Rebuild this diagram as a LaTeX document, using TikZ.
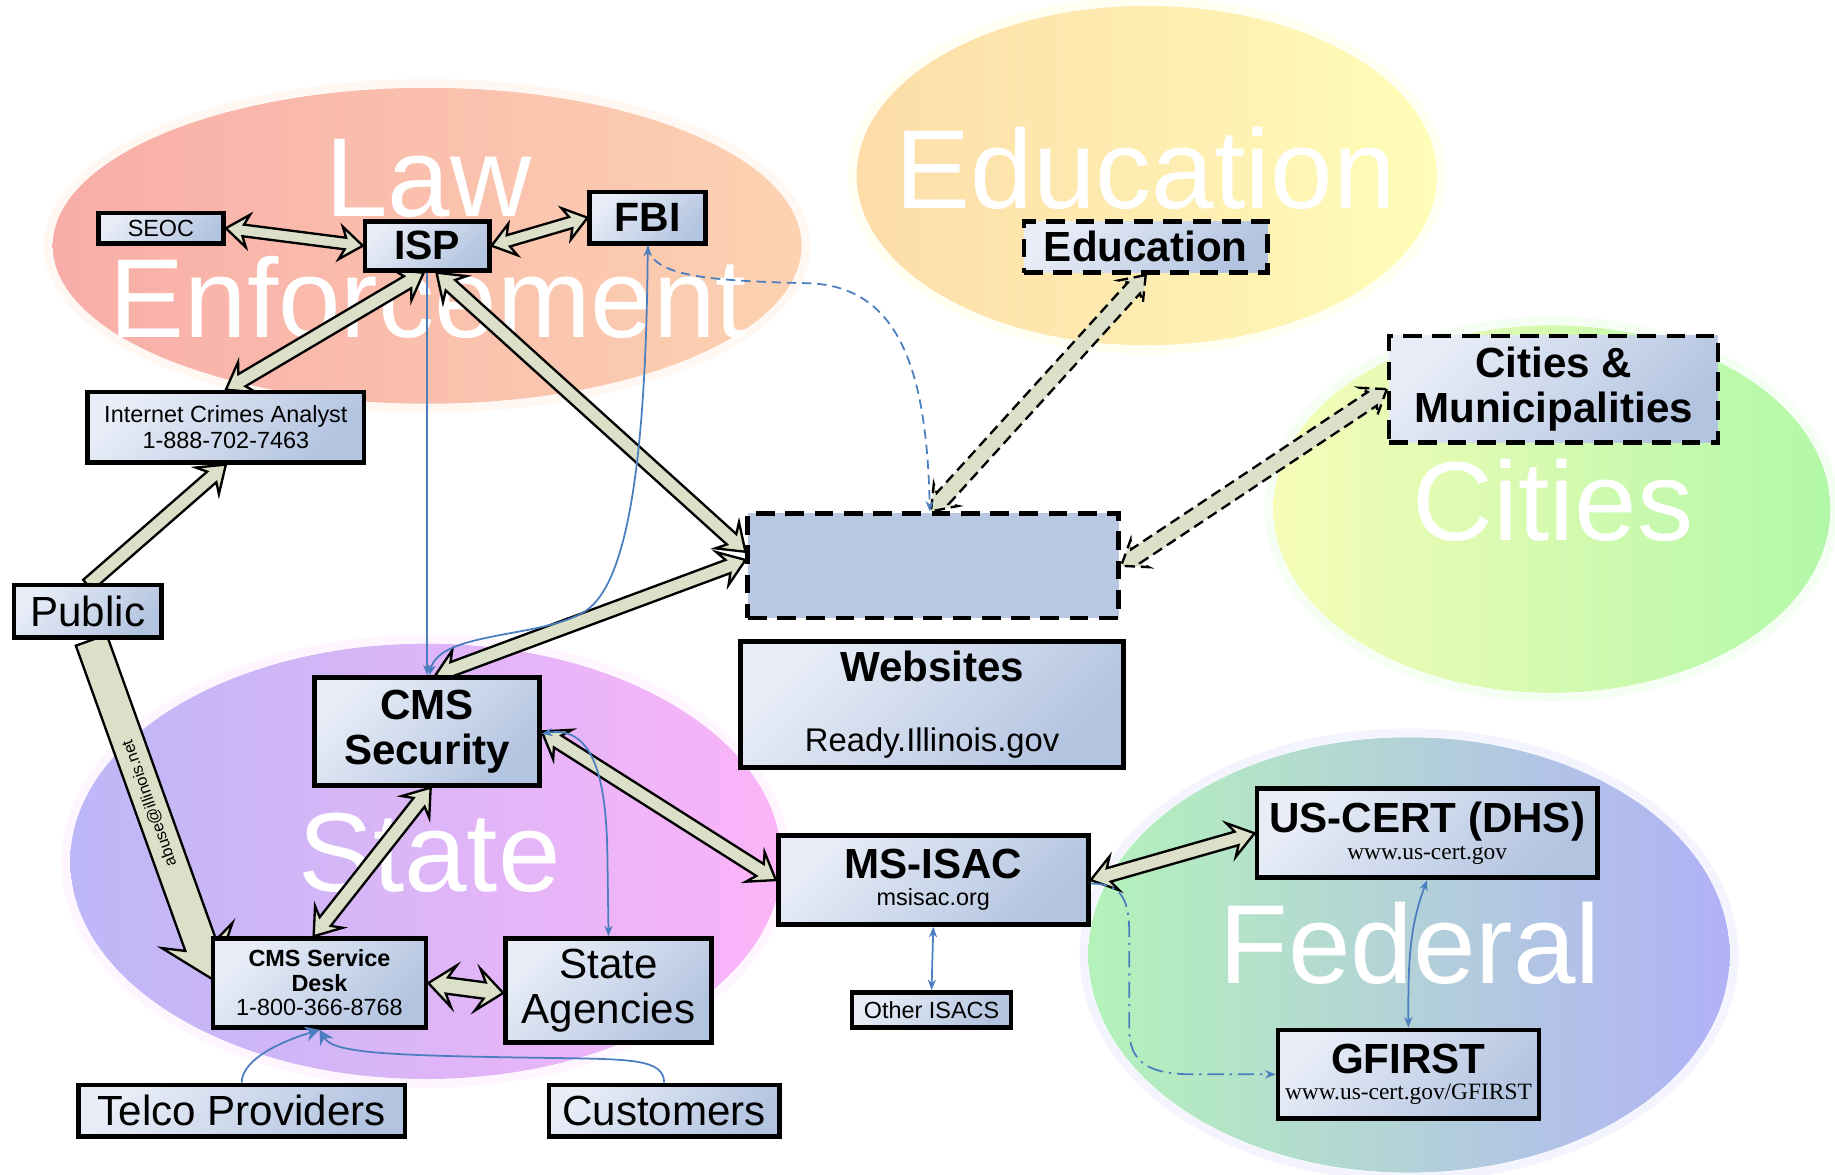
\documentclass[tikz,border=0pt]{standalone}
\usepackage{fontspec}
\setmainfont{Liberation Sans}
\newfontfamily\serifrm{Liberation Serif}
\usetikzlibrary{calc,arrows.meta}
\pgfdeclarelayer{bg}
\pgfdeclarelayer{arr}
\pgfdeclarelayer{top}
\pgfsetlayers{bg,arr,main,top}
\definecolor{boxlight}{HTML}{E8EDF7}
\definecolor{boxdark}{HTML}{B3C4E0}
\definecolor{blankfill}{HTML}{B8C8E3}
\definecolor{arrfill}{HTML}{DDE0C8}
\definecolor{linkblue}{HTML}{4A7EBF}
\definecolor{lawL}{HTML}{F8ADA8}
\definecolor{lawR}{HTML}{FCD2B2}
\definecolor{eduL}{HTML}{FDDCA8}
\definecolor{eduR}{HTML}{FFFDB8}
\definecolor{citL}{HTML}{F6FCB8}
\definecolor{citR}{HTML}{B2F8A8}
\definecolor{staL}{HTML}{BDB7F7}
\definecolor{staR}{HTML}{FCB4F8}
\definecolor{fedL}{HTML}{B4F2BA}
\definecolor{fedR}{HTML}{B1B1F7}
\newcommand\fbig{\fontsize{36}{38}\selectfont}
\newcommand\fsml{\fontsize{20}{23}\selectfont}
\newcommand\fhuge{\fontsize{96}{100}\selectfont}
% double-headed block arrow: style, A, B, half shaft, half head, head length (barbs), head length (shaft joint)
\newcommand\barrow[7]{%
 \draw[#1] (#2) -- ($(#2)!#6!(#3)!#5!90:(#3)$) -- ($(#2)!#7!(#3)!#4!90:(#3)$)
  -- ($(#3)!#7!(#2)!#4!-90:(#2)$) -- ($(#3)!#6!(#2)!#5!-90:(#2)$) -- (#3)
  -- ($(#3)!#6!(#2)!#5!90:(#2)$) -- ($(#3)!#7!(#2)!#4!90:(#2)$)
  -- ($(#2)!#7!(#3)!#4!-90:(#3)$) -- ($(#2)!#6!(#3)!#5!-90:(#3)$) -- cycle;}
% single-headed block arrow
\newcommand\sarrow[7]{%
 \draw[#1] ($(#2)!#4!90:(#3)$) -- ($(#3)!#7!(#2)!#4!-90:(#2)$) -- ($(#3)!#6!(#2)!#5!-90:(#2)$)
  -- (#3) -- ($(#3)!#6!(#2)!#5!90:(#2)$) -- ($(#3)!#7!(#2)!#4!90:(#2)$)
  -- ($(#2)!#4!-90:(#3)$) -- cycle;}
\begin{document}
\begin{tikzpicture}[x=1pt,y=-1pt,
  box/.style={draw=black, line width=4pt, top color=boxlight, bottom color=boxdark,
    shading angle=45, inner sep=0pt, align=center, font=\fbig},
  dbox/.style={box, dash pattern=on 16pt off 9pt},
  bigw/.style={text=white, font=\fhuge, anchor=base, inner sep=0pt},
  barr/.style={draw=black, line width=2pt, fill=arrfill, line join=miter},
  dbarr/.style={barr, dash pattern=on 9pt off 5pt},
  blue1/.style={draw=linkblue, line width=1.5pt},
  halo/.style={line width=7pt, draw opacity=0.35},
  tip/.tip={Stealth[length=9pt,width=7pt]},
  btip/.tip={Stealth[length=12pt,width=13pt]}]
\useasboundingbox (0,0) rectangle (1568,1004);
% regions
\begin{pgfonlayer}{bg}
\draw[halo, draw=lawR!50] (365,210) ellipse [x radius=324pt, y radius=139pt];
\draw[halo, draw=eduR!50] (980,150) ellipse [x radius=252pt, y radius=149pt];
\draw[halo, draw=citR!40] (1326,435) ellipse [x radius=242pt, y radius=161pt];
\draw[halo, draw=staR!40] (364,736) ellipse [x radius=308pt, y radius=190pt];
\draw[halo, draw=fedR!40] (1204,816) ellipse [x radius=278pt, y radius=190pt];
\shade[left color=lawL, right color=lawR] (365,210) ellipse [x radius=320pt, y radius=135pt];
\shade[left color=eduL, right color=eduR] (980,150) ellipse [x radius=248pt, y radius=145pt];
\shade[left color=citL, right color=citR] (1326,435) ellipse [x radius=238pt, y radius=157pt];
\shade[left color=staL, right color=staR] (364,736) ellipse [x radius=304pt, y radius=186pt];
\shade[left color=fedL, right color=fedR] (1204,816) ellipse [x radius=274pt, y radius=186pt];
\node[bigw] (tlaw) at (366,185) {Law};
\node[bigw] (tenf) at (366,288) {Enforcement};
\node[bigw] (tedu) at (979,178) {Education};
\node[bigw] (tcit) at (1327,462) {Cities};
\node[bigw] (tsta) at (367,762) {State};
\node[bigw] (tfed) at (1205,840) {Federal};
\end{pgfonlayer}
% boxes
\node[box, minimum width=107pt, minimum height=26pt, font=\fsml] (seoc) at (137.5,195) {SEOC};
\node[box, minimum width=106pt, minimum height=42pt, font=\fontsize{35}{38}\selectfont\bfseries] (isp) at (365,210) {ISP};
\node[box, minimum width=99pt, minimum height=44pt, font=\fontsize{35}{38}\selectfont\bfseries] (fbi) at (553.5,186) {FBI};
\node[box, minimum width=236pt, minimum height=60pt, font=\fsml] (ica) at (193,365) {Internet Crimes Analyst\\1-888-702-7463};
\node[box, minimum width=126pt, minimum height=45pt] (public) at (75,522.5) {Public};
\node[dbox, minimum width=208pt, minimum height=44pt, font=\fbig\bfseries] (edu) at (979,211) {Education};
\node[dbox, minimum width=281pt, minimum height=91pt, font=\fbig\bfseries] (cities) at (1327.5,332.5) {Cities \&\\Municipalities};
\node[dbox, top color=blankfill, bottom color=blankfill, minimum width=317pt, minimum height=89pt] (blank) at (797.5,483.5) {};
\node[box, minimum width=327pt, minimum height=108pt] (web) at (796.5,602) {\bfseries Websites\\[22pt]{\fontsize{28}{30}\selectfont Ready.Illinois.gov}};
\node[box, minimum width=192pt, minimum height=92pt, font=\fbig\bfseries] (cmssec) at (365,625) {CMS\\Security};
\node[box, minimum width=265pt, minimum height=76pt] (msisac) at (797.5,752) {\bfseries MS-ISAC\\[-15pt]{\fsml msisac.org}};
\node[box, minimum width=136pt, minimum height=30pt, font=\fsml] (other) at (796,863) {Other ISACS};
\node[box, minimum width=291pt, minimum height=76pt] (uscert) at (1219.5,712) {\bfseries US-CERT (DHS)\\[-15pt]{\serifrm\fsml www.us-cert.gov}};
\node[box, minimum width=223pt, minimum height=76pt] (gfirst) at (1203.5,918) {\bfseries GFIRST\\[-15pt]{\serifrm\fsml www.us-cert.gov/GFIRST}};
\node[box, minimum width=182pt, minimum height=76pt, font=\fontsize{20}{21}\selectfont] (desk) at (273,840) {\bfseries CMS Service\\\bfseries Desk\\1-800-366-8768};
\node[box, minimum width=176pt, minimum height=89pt] (stateag) at (520,846.5) {State\\Agencies};
\node[box, minimum width=279pt, minimum height=44pt] (telco) at (206.5,949) {Telco Providers};
\node[box, minimum width=197pt, minimum height=44pt] (cust) at (567.5,949) {Customers};
% anchor points for block arrows
\coordinate (ispA) at ($(isp.south)+(-3,0)$);
\coordinate (ispB) at ($(isp.south)+(8,0)$);
\coordinate (blankA) at ($(blank.west)+(0,-12)$);
\coordinate (blankB) at ($(blank.west)+(0,-5)$);
\coordinate (blankC) at ($(blank.north)+(-2,0)$);
\coordinate (pubtail) at ($(public.south)+(3,0)$);
\coordinate (pubtop) at ($(public.north)+(0,2)$);
\coordinate (desktip) at ($(desk.west)+(2,-3)$);
\coordinate (cmsA) at ($(cmssec.north)+(7,0)$);
\coordinate (cmsB) at ($(cmssec.south)+(3,0)$);
\coordinate (deskA) at ($(desk.north)+(-5,0)$);
\coordinate (stagW) at ($(stateag.west)+(0,2)$);
% block arrows
\begin{pgfonlayer}{arr}
\barrow{barr}{seoc.east}{isp.west}{5pt}{14pt}{19pt}{15pt}
\barrow{barr}{isp.east}{fbi.west}{5pt}{14pt}{19pt}{15pt}
\barrow{barr}{ispA}{ica.north}{6pt}{15pt}{21pt}{16pt}
\barrow{barr}{ispB}{blankA}{6pt}{15pt}{21pt}{16pt}
\sarrow{barr}{pubtop}{ica.south}{6pt}{15pt}{21pt}{16pt}
\sarrow{barr}{pubtail}{desktip}{14pt}{32pt}{40pt}{31pt}
\barrow{barr}{cmsA}{blankB}{6pt}{15pt}{21pt}{16pt}
\barrow{barr}{cmsB}{deskA}{6pt}{15pt}{21pt}{16pt}
\barrow{barr}{cmssec.east}{msisac.west}{6pt}{15pt}{21pt}{16pt}
\barrow{barr}{desk.east}{stagW}{7pt}{18pt}{22pt}{16pt}
\barrow{barr}{msisac.east}{uscert.west}{6pt}{15pt}{21pt}{16pt}
\barrow{dbarr}{edu.south}{blankC}{7pt}{14pt}{19pt}{15pt}
\barrow{dbarr}{cities.west}{blank.east}{7pt}{14pt}{19pt}{15pt}
\node[rotate=109.7, font=\fontsize{14}{14}\selectfont, inner sep=0pt] (abuse) at ($(pubtail)!0.48!(desktip)$) {abuse@illinois.net};
\end{pgfonlayer}
% thin blue links
\begin{pgfonlayer}{top}
\draw[blue1, -tip] (isp.south) -- (cmssec.north);
\draw[blue1, tip-tip] (fbi.south) .. controls (552,400) and (535,505) .. (497,524) .. controls (460,545) and (375,540) .. ($(cmssec.north)+(2,0)$);
\draw[blue1, -tip, dash pattern=on 8pt off 5pt] (fbi.south) .. controls (556,235) and (600,240) .. (690,242) .. controls (770,244) and (792,320) .. ($(blank.north)+(-3,0)$);
\draw[blue1, tip-tip] ($(cmssec.east)+(0,2)$) .. controls (505,620) and (518,660) .. (519,730) -- (stateag.north);
\draw[blue1, tip-tip] (msisac.south) -- (other.north);
\draw[blue1, tip-tip] (uscert.south) .. controls (1205,790) and (1203,820) .. (gfirst.north);
\draw[blue1, -tip, dash pattern=on 14pt off 5pt on 2pt off 5pt] ($(msisac.east)+(0,3)$) .. controls (960,755) and (965,770) .. (965,800) -- (965,880) .. controls (965,910) and (985,918) .. (1020,918) -- (gfirst.west);
\draw[blue1, -btip] (telco.north) .. controls (207,905) and (240,890) .. (desk.south);
\draw[blue1, -btip] (cust.north) .. controls (567,905) and (540,905) .. (470,904) .. controls (330,902) and (285,900) .. (desk.south);
\end{pgfonlayer}
\end{tikzpicture}
\end{document}
